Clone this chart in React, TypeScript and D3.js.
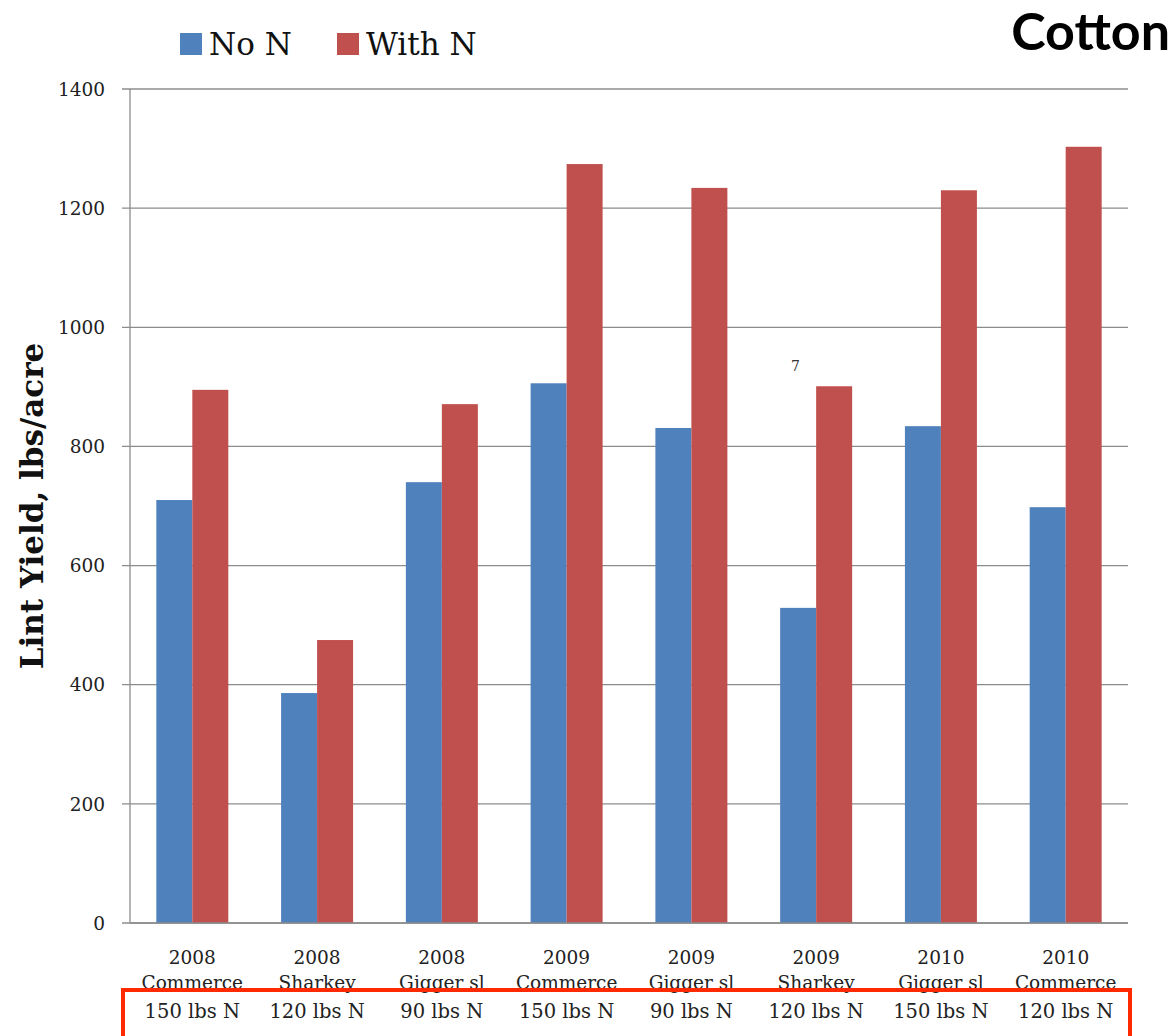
import React, { useEffect, useRef } from "react";
import * as d3 from "d3";

const years = ["2008", "2008", "2008", "2009", "2009", "2009", "2010", "2010"];
const soils = ["Commerce", "Sharkey", "Gigger sl", "Commerce", "Gigger sl", "Sharkey", "Gigger sl", "Commerce"];
const rates = ["150 lbs N", "120 lbs N", "90 lbs N", "150 lbs N", "90 lbs N", "120 lbs N", "150 lbs N", "120 lbs N"];
const noN = [710, 386, 740, 906, 831, 529, 834, 698];
const withN = [895, 475, 871, 1274, 1234, 901, 1230, 1303];
const seriesNames = ["No N", "With N"];
const yTicks = [0, 200, 400, 600, 800, 1000, 1200, 1400];

const W = 1173;
const H = 1036;
const margin = { top: 89, right: 45, bottom: 113, left: 130 };
const colors = ["#4F81BD", "#C0504D"];
const serif = "'DejaVu Serif', 'Liberation Serif', serif";

const App: React.FC = () => {
  const ref = useRef<SVGSVGElement | null>(null);

  useEffect(() => {
    if (!ref.current) return;
    const svg = d3.select(ref.current);
    svg.selectAll("*").remove();

    const innerW = W - margin.left - margin.right;
    const innerH = H - margin.top - margin.bottom;
    const idx = d3.range(noN.length).map(String);

    const x = d3.scaleBand().domain(idx).range([0, innerW]).paddingInner(0.423).paddingOuter(0.211);
    const x1 = d3.scaleBand().domain(seriesNames).range([0, x.bandwidth()]);
    const y = d3.scaleLinear().domain([0, 1400]).range([innerH, 0]);

    const g = svg.append("g").attr("transform", `translate(${margin.left},${margin.top})`);

    // gridlines + tick marks
    g.append("g")
      .selectAll("line")
      .data(yTicks)
      .join("line")
      .attr("x1", -8)
      .attr("x2", innerW)
      .attr("y1", (d) => y(d))
      .attr("y2", (d) => y(d))
      .attr("stroke", "#8c8c8c")
      .attr("stroke-width", 1.3);

    g.append("g")
      .selectAll("text")
      .data(yTicks)
      .join("text")
      .attr("x", -25)
      .attr("y", (d) => y(d))
      .attr("dy", "0.36em")
      .attr("text-anchor", "end")
      .attr("font-family", serif)
      .attr("font-size", 18.5)
      .attr("fill", "#222")
      .text((d) => d);

    // bars
    const series = [noN, withN];
    series.forEach((vals, si) => {
      g.append("g")
        .selectAll("rect")
        .data(vals)
        .join("rect")
        .attr("x", (_, i) => (x(String(i)) ?? 0) + (x1(seriesNames[si]) ?? 0))
        .attr("y", (d) => y(d))
        .attr("width", x1.bandwidth())
        .attr("height", (d) => innerH - y(d))
        .attr("fill", colors[si]);
    });

    // axis lines
    g.append("line").attr("x1", 0).attr("x2", 0).attr("y1", 0).attr("y2", innerH)
      .attr("stroke", "#8c8c8c").attr("stroke-width", 1.3);
    g.append("line").attr("x1", 0).attr("x2", innerW).attr("y1", innerH).attr("y2", innerH)
      .attr("stroke", "#8c8c8c").attr("stroke-width", 1.3);

    // category labels
    const lab = g.append("g").attr("font-family", serif).attr("fill", "#222").attr("text-anchor", "middle");
    idx.forEach((k, i) => {
      const cx = (x(k) ?? 0) + x.bandwidth() / 2;
      lab.append("text").attr("x", cx).attr("y", 964 - margin.top).attr("font-size", 18.5).text(years[i]);
      lab.append("text").attr("x", cx).attr("y", 989 - margin.top).attr("font-size", 18.5).text(soils[i]);
      lab.append("text").attr("x", cx).attr("y", 1018 - margin.top).attr("font-size", 19.5).text(rates[i]);
    });

    // red highlight box
    svg.append("rect")
      .attr("x", 123)
      .attr("y", 990)
      .attr("width", 1007)
      .attr("height", 60)
      .attr("fill", "none")
      .attr("stroke", "#FF2A00")
      .attr("stroke-width", 4);

    // y-axis title
    svg.append("text")
      .attr("transform", `translate(43,${margin.top + innerH / 2}) rotate(-90)`)
      .attr("text-anchor", "middle")
      .attr("font-family", serif)
      .attr("font-weight", "bold")
      .attr("font-size", 31)
      .attr("fill", "#111")
      .text("Lint Yield, lbs/acre");

    // legend
    const legendX = [180, 337];
    seriesNames.forEach((name, i) => {
      svg.append("rect").attr("x", legendX[i]).attr("y", 33).attr("width", 22).attr("height", 22).attr("fill", colors[i]);
      svg.append("text")
        .attr("x", legendX[i] + 29)
        .attr("y", 55)
        .attr("font-family", serif)
        .attr("font-size", 31)
        .attr("fill", "#111")
        .text(name);
    });

    // stray mark from the source image
    svg.append("text").attr("x", 791).attr("y", 371).attr("font-family", serif).attr("font-size", 14).attr("fill", "#333").text("7");

    // title
    svg.append("text")
      .attr("x", 1170)
      .attr("y", 50)
      .attr("text-anchor", "end")
      .attr("font-family", "Lato, 'Open Sans', sans-serif")
      .attr("font-weight", "bold")
      .attr("font-size", 52)
      .attr("fill", "#000")
      .text("Cotton");
  }, []);

  return (
    <svg
      ref={ref}
      width={W}
      height={H}
      style={{ position: "absolute", left: 0, top: 0, background: "#fff" }}
    />
  );
};

export default App;
